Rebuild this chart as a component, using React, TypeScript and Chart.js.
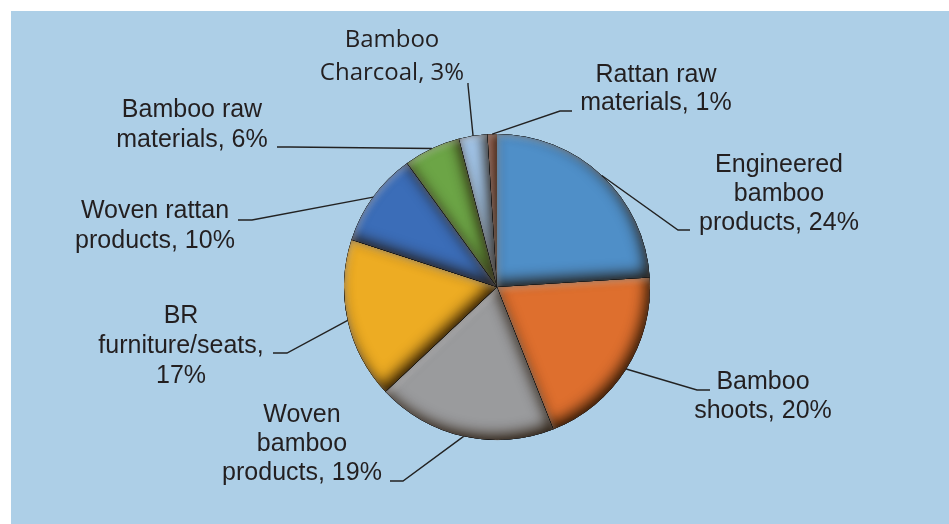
import React, { useEffect, useRef } from "react";
import { Chart, registerables } from "chart.js";

Chart.register(...registerables);

// ---- data ----
const categories = [
  "Engineered bamboo products",
  "Bamboo shoots",
  "Woven bamboo products",
  "BR furniture/seats",
  "Woven rattan products",
  "Bamboo raw materials",
  "Bamboo Charcoal",
  "Rattan raw materials",
];
const shares = [24, 20, 19, 17, 10, 6, 3, 1];
const sliceColors = [
  "#4F8FC8",
  "#DE6F2E",
  "#9A9B9D",
  "#EDAC23",
  "#3B6DB8",
  "#6CA546",
  "#A4C8EC",
  "#C67A66",
];

// ---- label layout (words per line, text anchor, leader stub) ----
const wordsPerLine = [[1, 1, 2], [1, 2], [1, 1, 2], [1, 1, 1], [2, 2], [2, 2], [1, 2], [2, 2]];
const labelCenterX = [779, 763, 302, 181, 155, 192, 392, 656];
const labelFirstBaseline = [172, 389, 422, 323, 218, 117, 47, 82];
const labelLineHeight = [29, 29, 29, 30, 30, 30, 33, 28];
const ARIAL = "25px 'Liberation Sans', Arial, sans-serif";
const labelFonts = [ARIAL, ARIAL, ARIAL, ARIAL, ARIAL, ARIAL, "24px 'Open Sans', sans-serif", ARIAL];
// leader stub: [x0, y0, x1, y1] then a line to the slice edge
const leaderStubs = [
  [690, 230, 678, 230],
  [710, 390, 697, 390],
  [390, 481, 403, 481],
  [273, 353, 287, 353],
  [238, 220, 252, 220],
  [277, 147, 290, 147],
  [468, 83, 468, 85],
  [572, 111, 560, 111],
];

function labelLines(i: number): string[] {
  const words = `${categories[i]}, ${shares[i]}%`.split(" ");
  const out: string[] = [];
  let k = 0;
  for (const n of wordsPerLine[i]) {
    out.push(words.slice(k, k + n).join(" "));
    k += n;
  }
  return out;
}

const backgroundPlugin = {
  id: "bgPanel",
  beforeDraw(chart: any) {
    const ctx = chart.ctx;
    ctx.save();
    ctx.fillStyle = "#ffffff";
    ctx.fillRect(0, 0, chart.width, chart.height);
    ctx.fillStyle = "#ADCFE7";
    ctx.fillRect(11, 11, chart.width - 11, chart.height - 11);
    ctx.restore();
  },
};

const bevelPlugin = {
  id: "bevel",
  afterDatasetsDraw(chart: any) {
    const ctx = chart.ctx;
    const meta = chart.getDatasetMeta(0);
    meta.data.forEach((arc: any) => {
      const { x, y, startAngle, endAngle, outerRadius } = arc.getProps(
        ["x", "y", "startAngle", "endAngle", "outerRadius"],
        true
      );
      const path = () => {
        ctx.moveTo(x, y);
        ctx.arc(x, y, outerRadius, startAngle, endAngle);
        ctx.closePath();
      };
      const pass = (color: string, blur: number, ox: number, oy: number) => {
        ctx.save();
        ctx.beginPath();
        path();
        ctx.clip();
        ctx.beginPath();
        ctx.rect(x - 2000, y - 2000, 4000, 4000);
        path();
        ctx.fillStyle = "rgba(0,0,0,1)";
        ctx.shadowColor = color;
        ctx.shadowBlur = blur;
        ctx.shadowOffsetX = ox;
        ctx.shadowOffsetY = oy;
        ctx.fill("evenodd");
        ctx.restore();
      };
      pass("rgba(30,15,0,0.9)", 14, -4, -5);
      pass("rgba(20,10,0,0.35)", 4, 0, 0);
      pass("rgba(255,255,255,0.3)", 6, 2, 3);
    });
  },
};

const labelPlugin = {
  id: "leaderLabels",
  afterDraw(chart: any) {
    const ctx = chart.ctx;
    const meta = chart.getDatasetMeta(0);
    ctx.save();
    meta.data.forEach((arc: any, i: number) => {
      const { x, y, startAngle, endAngle, outerRadius } = arc.getProps(
        ["x", "y", "startAngle", "endAngle", "outerRadius"],
        true
      );
      const mid = (startAngle + endAngle) / 2;
      const px = x + Math.cos(mid) * outerRadius;
      const py = y + Math.sin(mid) * outerRadius;
      const s = leaderStubs[i];
      ctx.beginPath();
      ctx.moveTo(s[0], s[1]);
      ctx.lineTo(s[2], s[3]);
      ctx.lineTo(px, py);
      ctx.strokeStyle = "#222222";
      ctx.lineWidth = 1.4;
      ctx.stroke();

      ctx.fillStyle = "#231F20";
      ctx.font = labelFonts[i];
      ctx.textAlign = "center";
      ctx.textBaseline = "alphabetic";
      labelLines(i).forEach((line, j) => {
        ctx.fillText(line, labelCenterX[i], labelFirstBaseline[i] + j * labelLineHeight[i]);
      });
    });
    ctx.restore();
  },
};

export default function App() {
  const ref = useRef<HTMLCanvasElement | null>(null);
  useEffect(() => {
    if (!ref.current) return;
    const chart = new Chart(ref.current, {
      type: "pie",
      data: {
        labels: categories,
        datasets: [
          {
            data: shares,
            backgroundColor: sliceColors,
            borderWidth: 0,
          },
        ],
      },
      options: {
        responsive: false,
        animation: false,
        layout: { padding: { top: 134, bottom: 84, left: 344, right: 299 } },
        plugins: {
          legend: { display: false },
          tooltip: { enabled: false },
        },
      },
      plugins: [backgroundPlugin, bevelPlugin, labelPlugin],
    });
    return () => chart.destroy();
  }, []);
  return (
    <div style={{ position: "absolute", left: 0, top: 0, width: 949, height: 524 }}>
      <canvas ref={ref} width={949} height={524} style={{ width: 949, height: 524, display: "block" }} />
    </div>
  );
}
